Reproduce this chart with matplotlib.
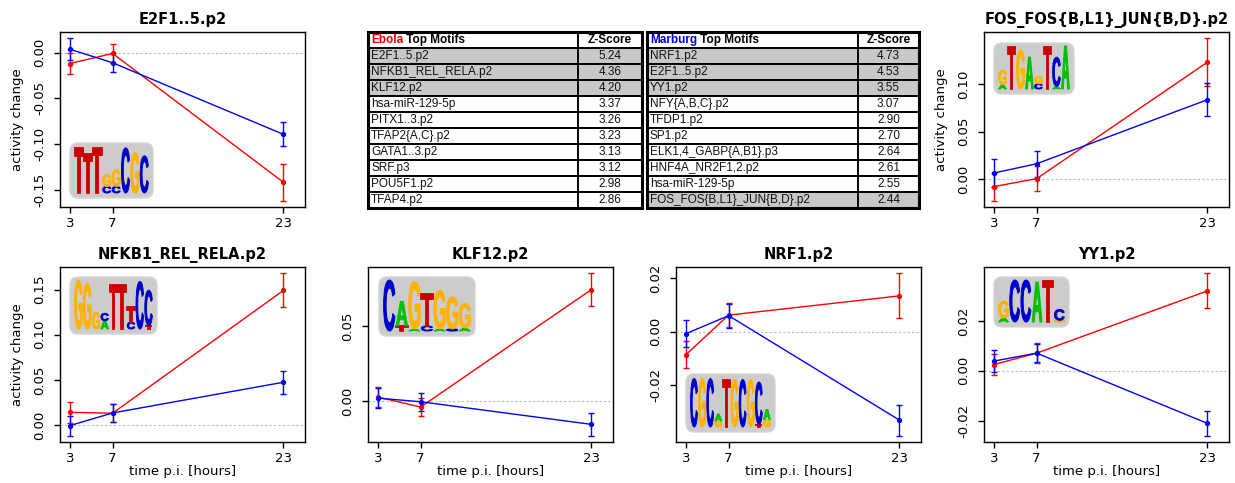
import matplotlib
matplotlib.use('Agg')
import matplotlib.pyplot as plt
from matplotlib.patches import FancyBboxPatch, Rectangle, PathPatch
from matplotlib.textpath import TextPath
from matplotlib.font_manager import FontProperties
from matplotlib.transforms import Affine2D
from matplotlib.ticker import FormatStrFormatter

W, H = 1235, 483

# time points (hours post infection)
times = [3, 7, 23]

# activity change per motif, Ebola (red) and Marburg (blue)
ebola_mean = {
    'E2F1..5.p2': [-0.012, -0.001, -0.142],
    'FOS_FOS{B,L1}_JUN{B,D}.p2': [-0.008, 0.0003, 0.123],
    'NFKB1_REL_RELA.p2': [0.014, 0.013, 0.149],
    'KLF12.p2': [0.0029, -0.0037, 0.0742],
    'NRF1.p2': [-0.0086, 0.0062, 0.0134],
    'YY1.p2': [0.0025, 0.0071, 0.0321],
}
ebola_err = {
    'E2F1..5.p2': [0.012, 0.0105, 0.020],
    'FOS_FOS{B,L1}_JUN{B,D}.p2': [0.0147, 0.013, 0.025],
    'NFKB1_REL_RELA.p2': [0.0115, 0.010, 0.0188],
    'KLF12.p2': [0.0065, 0.0057, 0.0107],
    'NRF1.p2': [0.005, 0.0045, 0.0084],
    'YY1.p2': [0.0042, 0.004, 0.007],
}
marburg_mean = {
    'E2F1..5.p2': [0.0036, -0.0112, -0.0895],
    'FOS_FOS{B,L1}_JUN{B,D}.p2': [0.0063, 0.016, 0.0835],
    'NFKB1_REL_RELA.p2': [-0.0007, 0.0133, 0.0473],
    'KLF12.p2': [0.0022, -0.0002, -0.0152],
    'NRF1.p2': [-0.00075, 0.006, -0.0331],
    'YY1.p2': [0.0039, 0.0071, -0.0211],
}
marburg_err = {
    'E2F1..5.p2': [0.0118, 0.0105, 0.013],
    'FOS_FOS{B,L1}_JUN{B,D}.p2': [0.0147, 0.0137, 0.0172],
    'NFKB1_REL_RELA.p2': [0.011, 0.010, 0.013],
    'KLF12.p2': [0.0066, 0.006, 0.0074],
    'NRF1.p2': [0.005, 0.0045, 0.0058],
    'YY1.p2': [0.0045, 0.0037, 0.0049],
}
yticks = {
    'E2F1..5.p2': [-0.15, -0.10, -0.05, 0.00],
    'FOS_FOS{B,L1}_JUN{B,D}.p2': [0.00, 0.05, 0.10],
    'NFKB1_REL_RELA.p2': [0.00, 0.05, 0.10, 0.15],
    'KLF12.p2': [0.00, 0.05],
    'NRF1.p2': [-0.02, 0.00, 0.02],
    'YY1.p2': [-0.02, 0.00, 0.02],
}

# top motif tables
ebola_motifs = ['E2F1..5.p2', 'NFKB1_REL_RELA.p2', 'KLF12.p2', 'hsa-miR-129-5p',
                'PITX1..3.p2', 'TFAP2{A,C}.p2', 'GATA1..3.p2', 'SRF.p3',
                'POU5F1.p2', 'TFAP4.p2']
ebola_z = [5.24, 4.36, 4.20, 3.37, 3.26, 3.23, 3.13, 3.12, 2.98, 2.86]
ebola_shaded = [1, 1, 1, 0, 0, 0, 0, 0, 0, 0]
marburg_motifs = ['NRF1.p2', 'E2F1..5.p2', 'YY1.p2', 'NFY{A,B,C}.p2', 'TFDP1.p2',
                  'SP1.p2', 'ELK1,4_GABP{A,B1}.p3', 'HNF4A_NR2F1,2.p2',
                  'hsa-miR-129-5p', 'FOS_FOS{B,L1}_JUN{B,D}.p2']
marburg_z = [4.73, 4.53, 3.55, 3.07, 2.90, 2.70, 2.64, 2.61, 2.55, 2.44]
marburg_shaded = [1, 1, 1, 0, 0, 0, 0, 0, 0, 1]

# sequence logos: columns, each stacked bottom->top as (letter, relative height)
logos = {
    'E2F1..5.p2': [[('T', 0.95)], [('T', 0.82)], [('T', 0.96)],
                   [('C', 0.14), ('G', 0.25)], [('C', 0.14), ('G', 0.36)],
                   [('C', 0.96)], [('G', 0.86)], [('C', 0.79)]],
    'FOS_FOS{B,L1}_JUN{B,D}.p2': [[('A', 0.1), ('G', 0.34)], [('T', 0.98)], [('G', 0.91)],
                                  [('A', 0.74)], [('C', 0.12), ('G', 0.17)], [('T', 0.98)],
                                  [('A', 0.06), ('C', 0.68)], [('A', 1.0)]],
    'NFKB1_REL_RELA.p2': [[('G', 1.0)], [('G', 0.93)], [('G', 0.34)],
                          [('A', 0.17), ('C', 0.15)], [('T', 0.9)], [('T', 0.9)],
                          [('C', 0.14), ('T', 0.3)], [('C', 0.97)],
                          [('T', 0.07), ('C', 0.72)]],
    'KLF12.p2': [[('C', 1.0)], [('T', 0.1), ('A', 0.48)], [('A', 0.04), ('G', 0.93)],
                 [('C', 0.1), ('T', 0.62)], [('A', 0.04), ('G', 0.76)],
                 [('C', 0.04), ('G', 0.63)], [('A', 0.06), ('G', 0.48)]],
    'NRF1.p2': [[('C', 0.97)], [('G', 0.97)], [('C', 0.97)], [('G', 0.12), ('A', 0.14)],
                [('T', 0.95)], [('G', 0.95)], [('C', 0.95)], [('G', 0.95)],
                [('T', 0.05), ('C', 0.85)], [('G', 0.15), ('A', 0.2)]],
    'YY1.p2': [[('A', 0.1), ('G', 0.4)], [('C', 1.0)], [('C', 1.0)], [('A', 0.95)],
               [('T', 0.98)], [('G', 0.04), ('C', 0.26)]],
}
base_colors = {'A': '#00c000', 'C': '#0000cc', 'G': '#ffb300', 'T': '#cc0000'}

# pixel layout: panel boxes (left, top) and logo boxes (x, y, w, h)
panel_pos = {
    'E2F1..5.p2': (60, 32), 'FOS_FOS{B,L1}_JUN{B,D}.p2': (984, 32),
    'NFKB1_REL_RELA.p2': (60, 267), 'KLF12.p2': (368, 267),
    'NRF1.p2': (676, 267), 'YY1.p2': (984, 267),
}
logo_pos = {
    'E2F1..5.p2': (69, 142, 85, 57), 'FOS_FOS{B,L1}_JUN{B,D}.p2': (993, 42, 82, 53),
    'NFKB1_REL_RELA.p2': (69, 276, 89, 59), 'KLF12.p2': (378, 276, 98, 61),
    'NRF1.p2': (685, 373, 91, 60), 'YY1.p2': (993, 276, 77, 52),
}
PW, PH = 245, 175

fig = plt.figure(figsize=(W / 100, H / 100), dpi=100)


def px_axes(x, y, w, h):
    return fig.add_axes([x / W, 1 - (y + h) / H, w / W, h / H])


# ---- tables ----
tab = fig.add_axes([0, 0, 1, 1])
tab.set_xlim(0, W)
tab.set_ylim(H, 0)
tab.axis('off')
tfont = dict(family=['Liberation Sans', 'DejaVu Sans'], fontsize=8.5)


def draw_table(x0, x1, xdiv, name, name_color, motifs, zs, shaded):
    top, rh = 32, 16
    n = len(motifs) + 1
    for i in range(n):
        y = top + i * rh
        fc = '#c8c8c8' if i > 0 and shaded[i - 1] else 'white'
        tab.add_patch(Rectangle((x0, y), x1 - x0, rh, fc=fc, ec='black', lw=1.4))
    tab.plot([xdiv, xdiv], [top, top + n * rh], color='black', lw=1.4)
    tab.add_patch(Rectangle((x0, top), x1 - x0, n * rh, fc='none', ec='black', lw=2.2))
    t1 = tab.text(x0 + 3, top + rh / 2, name, color=name_color, weight='bold',
                  va='center', ha='left', **tfont)
    tab.annotate(' Top Motifs', xy=(1, 0), xycoords=t1, va='bottom', ha='left',
                 weight='bold', **tfont)
    tab.text((xdiv + x1) / 2, top + rh / 2, 'Z-Score', weight='bold',
             va='center', ha='center', **tfont)
    for i, (m, z) in enumerate(zip(motifs, zs)):
        yc = top + (i + 1.5) * rh
        tab.text(x0 + 3, yc, m, va='center', ha='left', color='#111111', **tfont)
        tab.text((xdiv + x1) / 2, yc, f'{z:.2f}', va='center', ha='center',
                 color='#111111', **tfont)


draw_table(368, 642, 578, 'Ebola', '#ee0000', ebola_motifs, ebola_z, ebola_shaded)
draw_table(647, 919, 858, 'Marburg', '#0000ee', marburg_motifs, marburg_z, marburg_shaded)

# ---- line panels ----
for name, (px, py) in panel_pos.items():
    ax = px_axes(px, py, PW, PH)
    ax.axhline(0, color='#bbbbbb', lw=0.8, ls=(0, (2, 2)), zorder=0)
    ax.errorbar(times, ebola_mean[name], yerr=ebola_err[name], color='red', lw=1,
                elinewidth=1, capsize=2, capthick=1, marker='o', ms=2.8)
    ax.errorbar(times, marburg_mean[name], yerr=marburg_err[name], color='blue', lw=1,
                elinewidth=1, capsize=2, capthick=1, marker='o', ms=2.8)
    lows = [m - e for m, e in zip(ebola_mean[name] + marburg_mean[name],
                                  ebola_err[name] + marburg_err[name])]
    highs = [m + e for m, e in zip(ebola_mean[name] + marburg_mean[name],
                                   ebola_err[name] + marburg_err[name])]
    lo, hi = min(lows), max(highs)
    pad = 0.04 * (hi - lo)
    ax.set_ylim(lo - pad, hi + pad)
    ax.set_xlim(2.07, 25.03)
    ax.set_xticks(times)
    ax.set_yticks(yticks[name])
    ax.yaxis.set_major_formatter(FormatStrFormatter('%.2f'))
    ax.tick_params(axis='x', length=4, width=1, labelsize=9.5, pad=3.5)
    ax.tick_params(axis='y', length=4, width=1, labelsize=9.5, pad=6, rotation=90)
    for lbl in ax.get_yticklabels():
        lbl.set_va('center')
    for sp in ax.spines.values():
        sp.set_linewidth(1)
    ax.set_title(name, fontsize=10.5, weight='bold', pad=6)
    if px == 60 or py == 32:
        ax.set_ylabel('activity change', fontsize=9.5)
        ax.yaxis.set_label_coords(-42 / PW, 0.5)
        ax.yaxis.label.set_va('center')
    if py == 267:
        ax.set_xlabel('time p.i. [hours]', fontsize=9.5)
        ax.xaxis.set_label_coords(0.5, -29 / PH)
        ax.xaxis.label.set_va('center')

# ---- sequence logos ----
logo_font = FontProperties(family='Liberation Sans', weight='bold')


def draw_letter(ax, ch, x0, y0, w, h):
    tp = TextPath((0, 0), ch, size=1, prop=logo_font)
    ext = tp.get_extents()
    tr = Affine2D().translate(-ext.x0, -ext.y0).scale(w / ext.width, h / ext.height)
    tr = tr.translate(x0, y0)
    stroke = 1.3 if ch == 'T' else 0.7
    ax.add_patch(PathPatch(tr.transform_path(tp), fc=base_colors[ch],
                           ec=base_colors[ch], lw=stroke, joinstyle='miter'))


for name, (lx, ly, lw, lh) in logo_pos.items():
    lax = px_axes(lx, ly, lw, lh)
    lax.set_xlim(0, lw)
    lax.set_ylim(0, lh)
    lax.axis('off')
    lax.add_patch(FancyBboxPatch((1, 1), lw - 2, lh - 2,
                                 boxstyle='round,pad=0,rounding_size=8',
                                 fc='#cccccc', ec='#d6d6d6', lw=1))
    cols = logos[name]
    left, right, bottom, top = 5, lw - 5, 6, lh - 4
    cw = (right - left) / len(cols)
    fullh = top - bottom
    for i, col in enumerate(cols):
        y = bottom
        for ch, hgt in col:
            draw_letter(lax, ch, left + i * cw + 0.6, y, cw - 1.2, hgt * fullh)
            y += hgt * fullh

fig.savefig('out.png', dpi=100)
